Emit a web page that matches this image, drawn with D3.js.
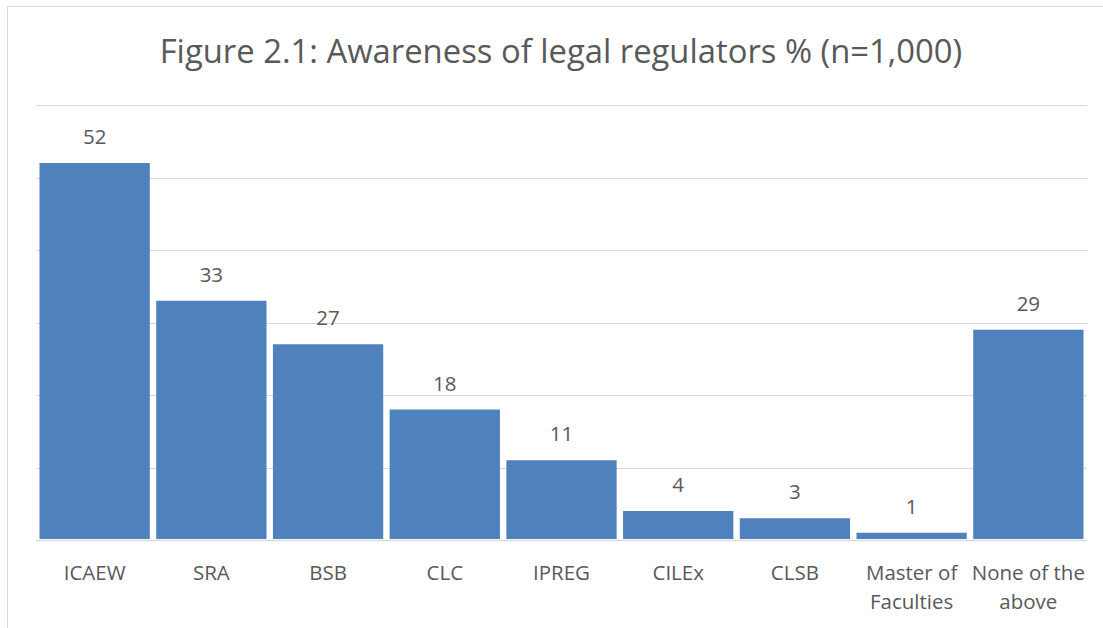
<!DOCTYPE html>
<html>
<head>
<meta charset="utf-8">
<script src="https://cdn.jsdelivr.net/npm/d3@7"></script>
<style>
  body { margin: 0; background: #fff; }
  text { font-family: "Open Sans", "Noto Sans", sans-serif; fill: #595959; }
</style>
</head>
<body>
<div id="chart_parent"></div>
<script>
const categories = ['ICAEW', 'SRA', 'BSB', 'CLC', 'IPREG', 'CILEx', 'CLSB', 'Master of|Faculties', 'None of the|above'];
const values = [52, 33, 27, 18, 11, 4, 3, 1, 29];
const yTicks = [0, 10, 20, 30, 40, 50, 60];
const titleText = 'Figure 2.1: Awareness of legal regulators % (n=1,000)';

const chartConfig = {
    outerWidth: 1103,
    outerHeight: 628,
    plot: { left: 36, right: 1087, top: 105, bottom: 540 },
};

const svg = d3.select('#chart_parent').append('svg')
    .attr('width', chartConfig.outerWidth)
    .attr('height', chartConfig.outerHeight);

// chart frame, cut off on the right and bottom like the screenshot
svg.append('rect')
    .attr('x', 7.5).attr('y', 6.5)
    .attr('width', 1110).attr('height', 640)
    .attr('fill', '#fff')
    .attr('stroke', '#d9d9d9');

const xScale = d3.scaleBand()
    .domain(categories)
    .range([chartConfig.plot.left, chartConfig.plot.right])
    .paddingInner(0.055)
    .paddingOuter(0.03);

const yScale = d3.scaleLinear()
    .domain([0, 60])
    .range([chartConfig.plot.bottom, chartConfig.plot.top]);

svg.append('g')
    .selectAll('line')
    .data(yTicks)
    .join('line')
    .attr('x1', chartConfig.plot.left)
    .attr('x2', chartConfig.plot.right)
    .attr('y1', d => Math.round(yScale(d)) + 0.5)
    .attr('y2', d => Math.round(yScale(d)) + 0.5)
    .attr('stroke', '#d9d9d9')
    .attr('stroke-width', d => d === 0 ? 1.5 : 1);

svg.append('g')
    .selectAll('rect')
    .data(values)
    .join('rect')
    .attr('x', (d, i) => xScale(categories[i]))
    .attr('width', xScale.bandwidth())
    .attr('y', d => yScale(d))
    .attr('height', d => yScale(0) - yScale(d) - 1)
    .attr('fill', '#4f81bd');

svg.append('g')
    .selectAll('text')
    .data(values)
    .join('text')
    .attr('x', (d, i) => xScale(categories[i]) + xScale.bandwidth() / 2)
    .attr('y', d => yScale(d) - 19)
    .attr('text-anchor', 'middle')
    .attr('font-size', 20.5)
    .text(d => d);

const catLabels = svg.append('g')
    .selectAll('text')
    .data(categories)
    .join('text')
    .attr('x', d => xScale(d) + xScale.bandwidth() / 2)
    .attr('y', 580)
    .attr('text-anchor', 'middle')
    .attr('font-size', 20.5);

catLabels.each(function (d) {
    const el = d3.select(this);
    d.split('|').forEach((line, i) => {
        el.append('tspan')
            .attr('x', xScale(d) + xScale.bandwidth() / 2)
            .attr('dy', i === 0 ? 0 : 29)
            .text(line);
    });
});

svg.append('text')
    .attr('x', 561)
    .attr('y', 63)
    .attr('text-anchor', 'middle')
    .attr('font-size', 32.8)
    .text(titleText);
</script>
</body>
</html>
